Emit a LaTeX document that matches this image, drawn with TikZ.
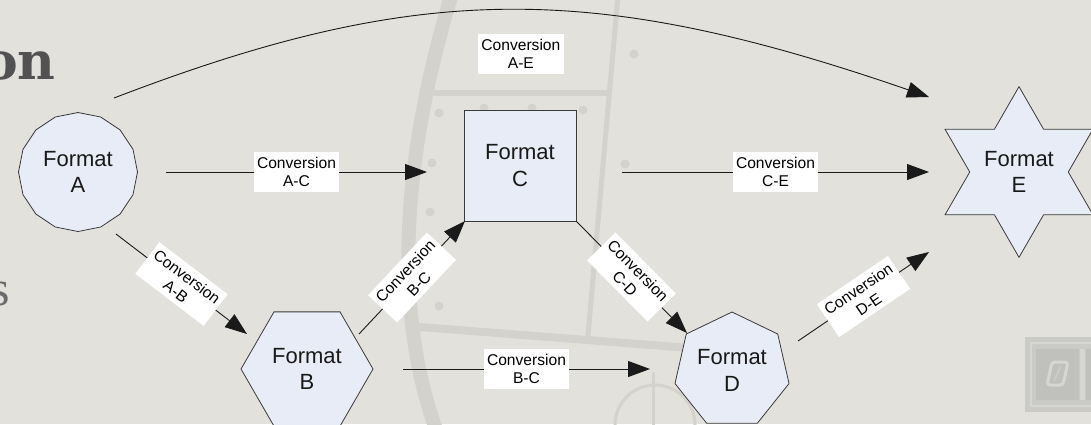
\documentclass[tikz,border=0pt]{standalone}
\usepackage{fontspec}
\setmainfont{Liberation Sans}
\newfontfamily\titleserif{DejaVu Serif}
\newfontfamily\plainserif{Liberation Serif}
\usetikzlibrary{shapes.geometric,arrows.meta,calc}
\definecolor{bgc}{HTML}{E2E1DC}
\definecolor{decoc}{HTML}{D3D2CD}
\definecolor{logoc}{HTML}{CACAC6}
\definecolor{logod}{HTML}{C0C0BC}
\definecolor{logol}{HTML}{D6D6D2}
\definecolor{nodefill}{HTML}{E8ECF7}
\definecolor{nodeline}{HTML}{3A3A3A}
\definecolor{edgec}{HTML}{1A1A1A}
\begin{document}
\begin{tikzpicture}[x=1pt,y=-1pt,
  fmt/.style={draw=nodeline, line width=0.8pt, fill=nodefill, inner sep=0pt, align=center, font=\fontsize{22}{26.5}\selectfont, text=black!90},
  conn/.style={draw=edgec, line width=0.9pt, -{Triangle[length=22pt,width=16pt]}},
  lbl/.style={fill=white, inner xsep=3.5pt, inner ysep=5pt, align=center, font=\fontsize{15.6}{18.4}\selectfont, text=black},
  bgline/.style={draw=decoc, line cap=round},
  bgdot/.style={fill=decoc},
]
\useasboundingbox (0,0) rectangle (1091,424);
\clip (0,0) rectangle (1091,424);
\fill[bgc] (0,0) rectangle (1091,424);

% faint background decoration
\draw[bgline, line width=14pt] (453,-10) .. controls (410,130) and (385,300) .. (440,440);
\draw[bgline, line width=5pt] (618,-5) -- (588,335);
\draw[bgline, line width=6pt] (432,93) -- (607,93);
\draw[bgline, line width=8pt] (420,327) -- (690,348);
\draw[bgline, line width=3pt] (655,425) circle[radius=40];
\draw[bgline, line width=3pt] (653,373) -- (653,430);
\foreach \p in {(439,113),(484,108),(532,108),(583,110),(634,54),(625,164),(432,163),(430,212),(439,306)}
  \fill[bgdot] \p circle[radius=4.5];
% logo in the corner
\fill[logoc] (1025,337) rectangle (1100,412);
\draw[logol, line width=2pt] (1031,343) rectangle (1100,406);
\fill[logod] (1036,349) rectangle (1079,400);
\fill[logol] (1080,349) rectangle (1085,400);
\fill[logod] (1086,349) rectangle (1100,400);
\draw[logol, line width=3pt, rounded corners=3pt] (1052,362) -- (1068,362) -- (1063,385) -- (1047,385) -- cycle;
\draw[logoc, line width=2pt] (1061,366) -- (1054,381);

% slide title fragments
\node[anchor=base east, inner sep=0pt, text=black!68, font=\titleserif\bfseries\fontsize{52}{52}\selectfont] (t1) at (56,79) {on};
\node[anchor=base east, inner sep=0pt, text=black!58, font=\plainserif\fontsize{50}{50}\selectfont] (t2) at (10,305) {s};

% nodes
\node[fmt, regular polygon, regular polygon sides=16, shape border rotate=11.25, minimum size=119pt] (A) at (78,172) {Format\\A};
\node[fmt, regular polygon, regular polygon sides=6, minimum size=132pt] (B) at (307,369) {Format\\B};
\node[fmt, rectangle, minimum width=112pt, minimum height=111pt] (C) at (520,165.5) {Format\\C};
\node[fmt, regular polygon, regular polygon sides=7, minimum size=117pt] (D) at (732,370.5) {Format\\D};
\node[fmt, star, star points=6, star point ratio=1.732, minimum size=160pt] (E) at (1019,172) {Format\\E};

% connectors
\draw[conn] ([shift={(36,-74)}]A.center) .. controls +(305,-117) and +(-336,-116) ..
  node[lbl, pos=0.5, xshift=11pt, yshift=-44pt] (lAE) {Conversion\\A-E} ([shift={(-90,-75)}]E.center);
\draw[conn] ([shift={(88,0)}]A.center) -- node[lbl] (lAC) {Conversion\\A-C} ([shift={(-93,6.5)}]C.center);
\draw[conn] ([shift={(102,6.5)}]C.center) -- node[lbl] (lCE) {Conversion\\C-E} ([shift={(-90,0)}]E.center);
\draw[conn] ([shift={(38,62)}]A.center) -- node[lbl, sloped] (lAB) {Conversion\\A-B} ([shift={(-60,-35)}]B.center);
\draw[conn] ([shift={(52,-35)}]B.center) -- node[lbl, sloped] (lBC) {Conversion\\B-C} ([shift={(-55,55.5)}]C.center);
\draw[conn] ([shift={(96,0)}]B.center) -- node[lbl] (lBD) {Conversion\\B-C} ([shift={(-82,-1.5)}]D.center);
\draw[conn] ([shift={(56,55.5)}]C.center) -- node[lbl, sloped] (lCD) {Conversion\\C-D} ([shift={(-45,-37.5)}]D.center);
\draw[conn] ([shift={(66,-29.5)}]D.center) -- node[lbl, sloped] (lDE) {Conversion\\D-E} ([shift={(-90,80)}]E.center);
\end{tikzpicture}
\end{document}
